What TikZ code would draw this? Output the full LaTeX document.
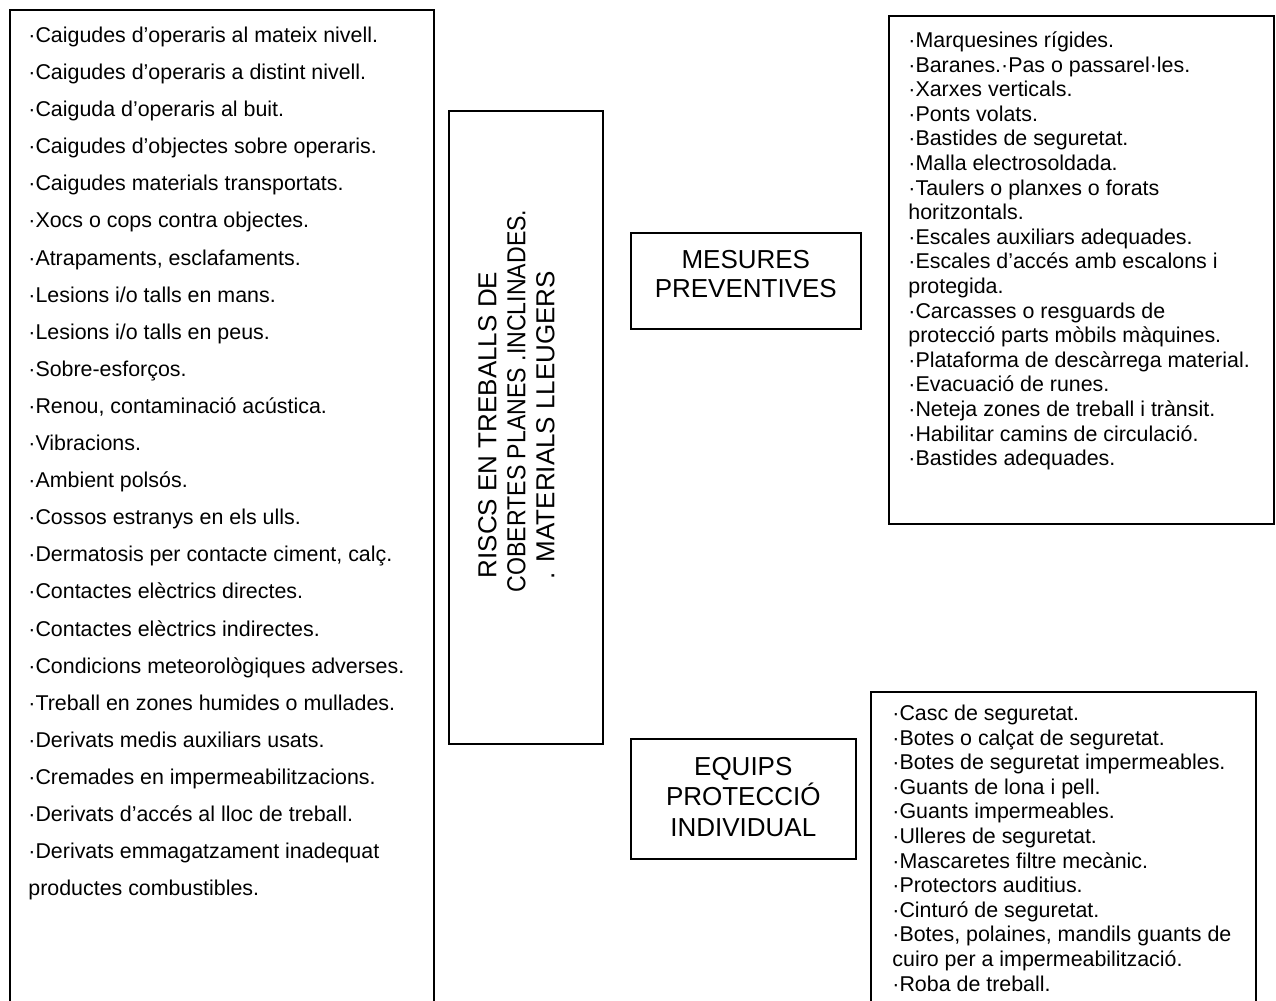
\documentclass[tikz,border=0pt]{standalone}
\usepackage{fontspec}
\usepackage{graphicx}
\setmainfont{Liberation Sans}
\newcommand\topstrut{\rule{0pt}{10pt}}
\begin{document}
\begin{tikzpicture}[x=0.5pt, y=-0.5pt]
  \tikzset{
    box/.style={draw, line width=1pt, inner sep=0pt, anchor=north west},
    listtext/.style={anchor=north west, align=left, inner sep=0pt},
    titletext/.style={align=center, inner sep=0pt, font=\fontsize{13}{14.5}\selectfont},
  }
  \useasboundingbox (0,0) rectangle (1276,1001);

  % frames (the two lists on the left and bottom right run past the page)
  \node[box, minimum width=212pt, minimum height=520pt] (riscslist) at (9,9) {};
  \node[box, minimum width=77pt, minimum height=316.5pt] (riscstitle) at (448,110) {};
  \node[box, line width=0.8pt, minimum width=115pt, minimum height=48pt] (mesurestitle) at (630,232) {};
  \node[box, minimum width=192.5pt, minimum height=254pt] (mesureslist) at (888,15) {};
  \node[box, line width=0.8pt, minimum width=112.5pt, minimum height=60pt] (equipstitle) at (630,738) {};
  \node[box, minimum width=192.5pt, minimum height=170pt] (equipslist) at (870,691) {};

  % titles
  \node[titletext] (mesureslabel) at ([yshift=3.5pt]mesurestitle.center) {MESURES\\PREVENTIVES};
  \node[titletext, font=\fontsize{13}{15.25}\selectfont]
       (equipslabel) at ([yshift=1pt]equipstitle.center) {EQUIPS\\PROTECCIÓ\\INDIVIDUAL};
  \node[titletext, rotate=90] (riscslabel) at (516.5,425)
       {RISCS EN TREBALLS DE\\
        \hspace*{24pt}\scalebox{0.89}[1]{COBERTES PLANES .INCLINADES.}\\
        . MATERIALS LLEUGERS};

  % risks
  \node[listtext, font=\fontsize{10.7}{18.55}\selectfont] (riscsitems) at (28,22) {%
    \topstrut·Caigudes d’operaris al mateix nivell.\\
    ·Caigudes d’operaris a distint nivell.\\
    ·Caiguda d’operaris al buit.\\
    ·Caigudes d’objectes sobre operaris.\\
    ·Caigudes materials transportats.\\
    ·Xocs o cops contra objectes.\\
    ·Atrapaments, esclafaments.\\
    ·Lesions i/o talls en mans.\\
    ·Lesions i/o talls en peus.\\
    ·Sobre-esforços.\\
    ·Renou, contaminació acústica.\\
    ·Vibracions.\\
    ·Ambient polsós.\\
    ·Cossos estranys en els ulls.\\
    ·Dermatosis per contacte ciment, calç.\\
    ·Contactes elèctrics directes.\\
    ·Contactes elèctrics indirectes.\\
    ·Condicions meteorològiques adverses.\\
    ·Treball en zones humides o mullades.\\
    ·Derivats medis auxiliars usats.\\
    ·Cremades en impermeabilitzacions.\\
    ·Derivats d’accés al lloc de treball.\\
    ·Derivats emmagatzament inadequat\\
    productes combustibles.};

  % preventive measures
  \node[listtext, font=\fontsize{10.7}{12.3}\selectfont] (mesuresitems) at (908,27) {%
    \topstrut·Marquesines rígides.\\
    ·Baranes.·Pas o passarel·les.\\
    ·Xarxes verticals.\\
    ·Ponts volats.\\
    ·Bastides de seguretat.\\
    ·Malla electrosoldada.\\
    ·Taulers o planxes o forats\\
    horitzontals.\\
    ·Escales auxiliars adequades.\\
    ·Escales d’accés amb escalons i\\
    protegida.\\
    ·Carcasses o resguards de\\
    protecció parts mòbils màquines.\\
    ·Plataforma de descàrrega material.\\
    ·Evacuació de runes.\\
    ·Neteja zones de treball i trànsit.\\
    ·Habilitar camins de circulació.\\
    ·Bastides adequades.};

  % personal protective equipment
  \node[listtext, font=\fontsize{10.7}{12.3}\selectfont] (equipsitems) at (892,700) {%
    \topstrut·Casc de seguretat.\\
    ·Botes o calçat de seguretat.\\
    ·Botes de seguretat impermeables.\\
    ·Guants de lona i pell.\\
    ·Guants impermeables.\\
    ·Ulleres de seguretat.\\
    ·Mascaretes filtre mecànic.\\
    ·Protectors auditius.\\
    ·Cinturó de seguretat.\\
    ·Botes, polaines, mandils guants de\\
    cuiro per a impermeabilització.\\
    ·Roba de treball.};
\end{tikzpicture}
\end{document}
